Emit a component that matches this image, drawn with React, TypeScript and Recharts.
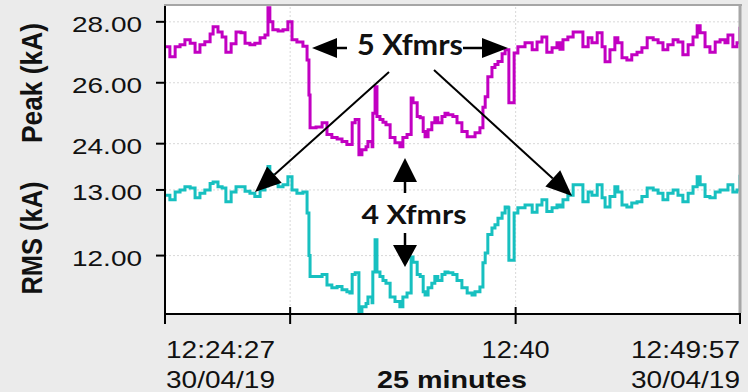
import React from 'react';
import { LineChart, Line, XAxis, YAxis, ReferenceLine } from 'recharts';

const timeSec = [
  0, 13, 27, 40, 53, 67, 80, 93, 106, 120,
  128, 141, 152, 162, 176, 189, 202, 213, 226, 239,
  253, 266, 274, 279, 287, 301, 314, 327, 338, 351,
  367, 378, 383, 386, 402, 418, 431, 444, 458, 471,
  484, 492, 498, 506, 516, 524, 535, 540, 551, 553,
  559, 564, 572, 580, 588, 599, 612, 625, 633, 644,
  655, 660, 671, 679, 687, 692, 700, 710, 718, 726,
  737, 745, 753, 766, 777, 790, 804, 817, 825, 838,
  846, 852, 859, 870, 878, 886, 897, 905, 913, 915,
  926, 929, 939, 958, 977, 990, 1003, 1016, 1030, 1043,
  1051, 1059, 1072, 1086, 1099, 1112, 1126, 1136, 1150, 1163,
  1171, 1184, 1197, 1205, 1216, 1229, 1242, 1256, 1269, 1283,
  1299, 1312, 1325, 1338, 1352, 1365, 1378, 1392, 1405, 1416,
  1424, 1437, 1450, 1464, 1477, 1490, 1498, 1511, 1522, 1530,
];

const peakKA = [
  27.18, 26.85, 27.18, 27.25, 27.41, 27.3, 27.0, 27.25, 27.35, 27.6,
  27.84, 27.67, 27.5, 27.0, 27.28, 27.67, 27.64, 27.3, 27.25, 27.3,
  27.48, 27.57, 28.46, 28.0, 27.74, 27.7, 27.74, 28.0, 27.41, 27.34,
  27.2, 26.75, 25.6, 24.52, 24.55, 24.69, 24.3, 24.2, 24.15, 24.07,
  23.97, 23.97, 24.69, 24.79, 23.64, 23.8, 23.9, 24.07, 23.9, 25.0,
  25.87, 24.89, 24.79, 24.7, 24.62, 24.2, 24.03, 23.9, 24.2, 24.3,
  25.5, 25.34, 24.89, 24.85, 24.4, 24.23, 24.46, 24.69, 24.85, 24.69,
  24.89, 25.0, 24.95, 24.89, 24.69, 24.4, 24.23, 24.23, 24.36, 24.52,
  25.2, 25.54, 26.2, 26.5, 26.6, 26.7, 26.95, 27.08, 27.08, 25.34,
  25.34, 26.98, 27.18, 27.31, 27.08, 27.34, 27.5, 27.0, 27.15, 27.31,
  27.1, 27.41, 27.5, 27.67, 27.67, 27.18, 27.48, 27.31, 27.64, 27.18,
  26.69, 27.08, 27.48, 27.31, 26.82, 26.75, 26.92, 27.0, 27.15, 27.48,
  27.41, 27.31, 27.08, 27.25, 27.41, 27.34, 26.92, 27.25, 27.5, 27.87,
  27.64, 27.18, 27.0, 27.34, 27.41, 27.31, 27.57, 27.18, 27.31, 27.84,
];

const rmsKA = [
  12.92, 12.85, 12.97, 13.0, 13.05, 13.03, 12.88, 12.95, 13.0, 13.1,
  13.12, 13.05, 13.03, 12.82, 12.97, 13.05, 13.05, 12.98, 12.95, 12.9,
  13.0, 13.06, 13.37, 13.23, 13.1, 13.05, 13.08, 13.2, 13.0, 12.95,
  12.97, 12.65, 12.0, 11.68, 11.68, 11.71, 11.55, 11.51, 11.53, 11.48,
  11.45, 11.43, 11.71, 11.74, 11.14, 11.22, 11.27, 11.37, 11.28, 11.75,
  12.24, 11.75, 11.68, 11.62, 11.58, 11.37, 11.3, 11.22, 11.37, 11.43,
  11.98, 11.9, 11.71, 11.68, 11.45, 11.4, 11.51, 11.58, 11.68, 11.62,
  11.71, 11.75, 11.74, 11.71, 11.62, 11.51, 11.43, 11.4, 11.45, 11.52,
  11.89, 12.04, 12.32, 12.42, 12.47, 12.57, 12.65, 12.74, 12.73, 11.93,
  11.93, 12.65, 12.73, 12.77, 12.66, 12.77, 12.85, 12.67, 12.73, 12.77,
  12.74, 12.85, 12.92, 13.08, 13.08, 12.82, 12.97, 12.92, 13.08, 12.88,
  12.74, 12.9, 13.05, 12.97, 12.77, 12.74, 12.8, 12.82, 12.9, 13.03,
  13.0, 12.95, 12.85, 12.95, 13.0, 12.92, 12.82, 12.95, 13.05, 13.2,
  13.08, 12.9, 12.88, 12.97, 13.0, 13.0, 13.08, 12.97, 13.0, 13.23,
];

const xTicks = [0, 333, 933, 1530];
const xTickLabels = ['12:24:27\n30/04/19', '', '12:40', '12:49:57\n30/04/19'];
const peakTicks = [24, 26, 28];
const rmsTicks = [12, 13];
const gridTimes = [333, 933];

const data = timeSec.map((t, i) => ({ t, peak: peakKA[i], rms: rmsKA[i] }));

const SANS = '"Liberation Sans", Arial, sans-serif';
const MAGENTA = '#c200c2';
const CYAN = '#17c0c0';
const GRID = '#d8d8d8';

const YTick = (props: any) => {
  const { x, y, payload } = props;
  return (
    <text x={x} y={y + 10} textAnchor="end" fontFamily={SANS} fontSize={22} fill="#111"
      textLength={70} lengthAdjust="spacingAndGlyphs">
      {Number(payload.value).toFixed(2)}
    </text>
  );
};

const XTick = (props: any) => {
  const { x, y, payload } = props;
  const idx = xTicks.indexOf(payload.value);
  const lines = (xTickLabels[idx] || '').split('\n').filter(Boolean);
  const anchor = idx === 0 ? 'start' : idx === xTicks.length - 1 ? 'end' : 'middle';
  return (
    <g>
      <line x1={x} x2={x} y1={y - 17} y2={y - 10} stroke="#000" strokeWidth={2} />
      {lines.map((l, i) => (
        <text key={i} x={x + (anchor === 'start' ? 1 : 0)} y={y + 34 + i * 30} textAnchor={anchor}
          fontFamily={SANS} fontSize={24} fill="#111"
          textLength={l.length > 5 ? 109 : 68} lengthAdjust="spacingAndGlyphs">
          {l}
        </text>
      ))}
    </g>
  );
};

function Arrow({ x1, y1, x2, y2, head = 25, half = 10, w = 2.5 }: any) {
  const dx = x2 - x1;
  const dy = y2 - y1;
  const L = Math.hypot(dx, dy);
  const ux = dx / L;
  const uy = dy / L;
  const bx = x2 - ux * head;
  const by = y2 - uy * head;
  const nx = -uy;
  const ny = ux;
  return (
    <g>
      <line x1={x1} y1={y1} x2={bx} y2={by} stroke="#000" strokeWidth={w} />
      <polygon
        points={`${x2},${y2} ${bx + nx * half},${by + ny * half} ${bx - nx * half},${by - ny * half}`}
        fill="#000"
      />
    </g>
  );
}

export default function App() {
  return (
    <div style={{ position: 'fixed', left: 0, top: 0, width: 748, height: 392, background: '#ebebeb', overflow: 'hidden' }}>
      <div style={{ position: 'absolute', left: 165, top: 6, width: 575, height: 308, background: '#ffffff' }} />
      <div style={{ position: 'absolute', left: 0, top: 0 }}>
        <LineChart width={748} height={165} data={data} margin={{ top: 6, right: 8, bottom: 0, left: 65 }}>
          <XAxis type="number" dataKey="t" domain={[0, 1530]} hide allowDataOverflow />
          <YAxis
            width={100}
            type="number"
            domain={[23.3, 28.52]}
            ticks={peakTicks}
            interval={0}
            allowDataOverflow
            axisLine={{ stroke: '#000', strokeWidth: 2 }}
            tickLine={{ stroke: '#000', strokeWidth: 2 }}
            tickSize={9}
            tickMargin={14}
            tick={<YTick />}
          />
          {peakTicks.map((v) => (
            <ReferenceLine key={'h' + v} y={v} stroke={GRID} strokeDasharray="2 2" />
          ))}
          {gridTimes.map((g) => (
            <ReferenceLine key={g} x={g} stroke={GRID} strokeDasharray="2 2" />
          ))}
          <Line dataKey="peak" type="stepAfter" stroke={MAGENTA} strokeWidth={3} dot={false} isAnimationActive={false} />
        </LineChart>
      </div>
      <div style={{ position: 'absolute', left: 0, top: 165 }}>
        <LineChart width={748} height={227} data={data} margin={{ top: 0, right: 8, bottom: 18, left: 65 }}>
          <XAxis
            type="number"
            dataKey="t"
            domain={[0, 1530]}
            ticks={xTicks}
            interval={0}
            allowDataOverflow
            height={60}
            axisLine={{ stroke: '#000', strokeWidth: 2 }}
            tickLine={{ stroke: '#000', strokeWidth: 2 }}
            tickSize={10}
            tickMargin={0}
            tick={<XTick />}
          />
          <YAxis
            width={100}
            type="number"
            domain={[11.11, 13.38]}
            ticks={rmsTicks}
            interval={0}
            allowDataOverflow
            axisLine={{ stroke: '#000', strokeWidth: 2 }}
            tickLine={{ stroke: '#000', strokeWidth: 2 }}
            tickSize={9}
            tickMargin={14}
            tick={<YTick />}
          />
          {rmsTicks.map((v) => (
            <ReferenceLine key={'h' + v} y={v} stroke={GRID} strokeDasharray="2 2" />
          ))}
          {gridTimes.map((g) => (
            <ReferenceLine key={g} x={g} stroke={GRID} strokeDasharray="2 2" />
          ))}
          <Line dataKey="rms" type="stepAfter" stroke={CYAN} strokeWidth={3} dot={false} isAnimationActive={false} />
        </LineChart>
      </div>
      <svg width={748} height={392} style={{ position: 'absolute', left: 0, top: 0, pointerEvents: 'none' }}>
        <line x1={164} y1={5} x2={742} y2={5} stroke="#a6a6a6" strokeWidth={2} />
        <line x1={740} y1={4} x2={740} y2={313} stroke="#a6a6a6" strokeWidth={3} />
        <text transform="translate(42,83) rotate(-90)" textAnchor="middle" fontFamily={SANS} fontWeight={700}
          fontSize={29} fill="#111" textLength={120} lengthAdjust="spacingAndGlyphs">Peak (kA)</text>
        <text transform="translate(42,238) rotate(-90)" textAnchor="middle" fontFamily={SANS} fontWeight={700}
          fontSize={29} fill="#111" textLength={113} lengthAdjust="spacingAndGlyphs">RMS (kA)</text>
        <text x={452} y={388} textAnchor="middle" fontFamily={SANS} fontWeight={700} fontSize={24} fill="#111"
          textLength={150} lengthAdjust="spacingAndGlyphs">25 minutes</text>

        <text x={410} y={55} textAnchor="middle" fontFamily="Lato, 'Open Sans', sans-serif" fontWeight={700}
          fontSize={28} fill="#111" textLength={106} lengthAdjust="spacingAndGlyphs">5 Xfmrs</text>
        <Arrow x1={347} y1={48} x2={312} y2={48} head={25} half={10} />
        <Arrow x1={463} y1={48} x2={508} y2={48} head={26} half={10} />
        <Arrow x1={389} y1={72} x2={255} y2={192} head={26} half={11} w={2} />
        <Arrow x1={434} y1={70} x2={572} y2={196} head={26} half={11} w={2} />

        <Arrow x1={405} y1={193} x2={405} y2={158} head={24} half={12} />
        <text x={414} y={224} textAnchor="middle" fontFamily="Lato, 'Open Sans', sans-serif" fontWeight={700}
          fontSize={26} fill="#111" textLength={105} lengthAdjust="spacingAndGlyphs">4 Xfmrs</text>
        <Arrow x1={405} y1={233} x2={405} y2={267} head={22} half={12} />
      </svg>
    </div>
  );
}
